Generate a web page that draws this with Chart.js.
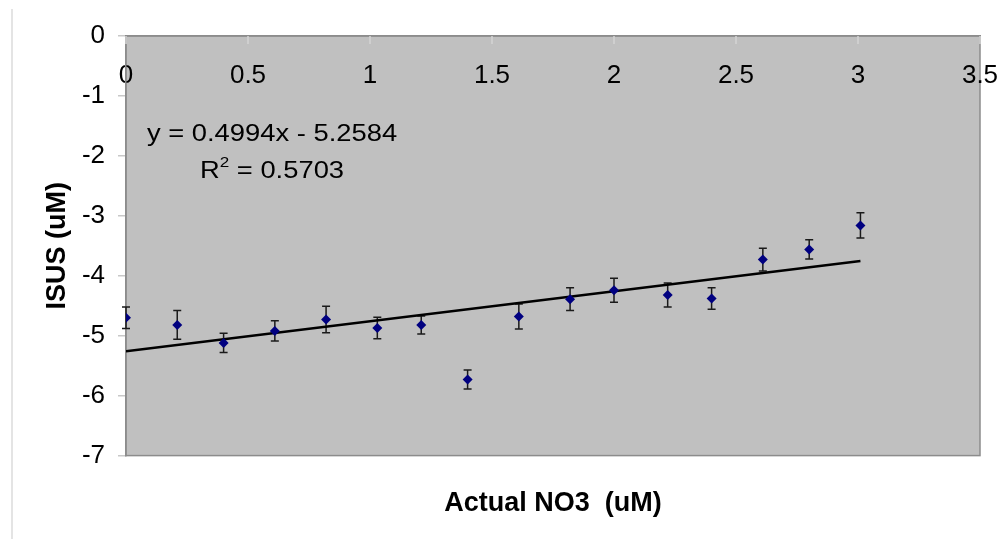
<!DOCTYPE html>
<html>
<head>
<meta charset="utf-8">
<script src="https://cdn.jsdelivr.net/npm/chart.js@4"></script>
<style>
  html, body { margin: 0; padding: 0; background: #fff; }
  #wrap { width: 1005px; height: 539px; }
</style>
</head>
<body>
<div id="wrap"><canvas id="chart" width="1005" height="539"></canvas></div>
<script>
"use strict";

// Measured points: actual NO3 vs ISUS reading, with +/- error
const actualNO3 = [0, 0.21, 0.40, 0.61, 0.82, 1.03, 1.21, 1.40, 1.61, 1.82, 2.00, 2.22, 2.40, 2.61, 2.80, 3.01];
const isusValues = [-4.70, -4.82, -5.12, -4.92, -4.73, -4.87, -4.82, -5.73, -4.68, -4.39, -4.24, -4.32, -4.38, -3.73, -3.56, -3.16];
const isusErrors = [0.18, 0.24, 0.16, 0.17, 0.22, 0.18, 0.15, 0.16, 0.21, 0.19, 0.20, 0.20, 0.18, 0.19, 0.16, 0.21];

// Linear trendline as printed on the chart
const trendSlope = 0.4994;
const trendIntercept = -5.2584;
const trendRange = [0, 3.01];
const equationLabel = "y = 0.4994x - 5.2584";
const rSquaredLabel = "0.5703";

// Axis ticks
const xTicks = [0, 0.5, 1, 1.5, 2, 2.5, 3, 3.5];
const xTickLabels = ["0", "0.5", "1", "1.5", "2", "2.5", "3", "3.5"];
const yTicks = [-7, -6, -5, -4, -3, -2, -1, 0];
const yTickLabels = ["-7", "-6", "-5", "-4", "-3", "-2", "-1", "0"];

const FONT = "'Liberation Sans', Arial, sans-serif";

const plotFrame = {
  id: "plotFrame",
  beforeDraw(chart) {
    const { ctx, chartArea: a } = chart;
    ctx.save();
    // faint outer frame on the left
    ctx.strokeStyle = "#e4e4e4";
    ctx.lineWidth = 2;
    ctx.beginPath();
    ctx.moveTo(12, 9);
    ctx.lineTo(12, 539);
    ctx.stroke();
    // grey plot area
    ctx.fillStyle = "#c0c0c0";
    ctx.fillRect(a.left, a.top, a.right - a.left, a.bottom - a.top);
    ctx.strokeStyle = "#8c8c8c";
    ctx.lineWidth = 1.5;
    ctx.strokeRect(a.left, a.top, a.right - a.left, a.bottom - a.top);
    ctx.restore();
  },
  beforeDatasetsDraw(chart) {
    const { ctx, chartArea: a } = chart;
    const xs = chart.scales.x;
    const ys = chart.scales.y;
    ctx.save();
    // small tick marks hanging down from the top axis
    ctx.strokeStyle = "#d4d4d4";
    ctx.lineWidth = 1.5;
    xTicks.forEach((v) => {
      const px = xs.getPixelForValue(v);
      ctx.beginPath();
      ctx.moveTo(px, a.top);
      ctx.lineTo(px, a.top + 8);
      ctx.stroke();
    });
    // error bars
    ctx.strokeStyle = "#1a1a1a";
    ctx.lineWidth = 1.5;
    actualNO3.forEach((x, i) => {
      const px = xs.getPixelForValue(x);
      const top = ys.getPixelForValue(isusValues[i] + isusErrors[i]);
      const bot = ys.getPixelForValue(isusValues[i] - isusErrors[i]);
      ctx.beginPath();
      ctx.moveTo(px, top);
      ctx.lineTo(px, bot);
      ctx.moveTo(px - 4, top);
      ctx.lineTo(px + 4, top);
      ctx.moveTo(px - 4, bot);
      ctx.lineTo(px + 4, bot);
      ctx.stroke();
    });
    ctx.restore();
  },
  afterDraw(chart) {
    const ctx = chart.ctx;
    const stretch = 1.14;
    ctx.save();
    ctx.fillStyle = "#000";
    ctx.textBaseline = "middle";
    ctx.translate(272, 0);
    ctx.scale(stretch, 1);
    ctx.font = `24px ${FONT}`;
    ctx.textAlign = "center";
    ctx.fillText(equationLabel, 0, 134);

    // second line: R² = value
    const rest = " = " + rSquaredLabel;
    const wR = ctx.measureText("R").width;
    const wRest = ctx.measureText(rest).width;
    ctx.font = `15px ${FONT}`;
    const wSup = ctx.measureText("2").width;
    const total = wR + wSup + wRest;
    let x = -total / 2;
    ctx.textAlign = "left";
    ctx.font = `24px ${FONT}`;
    ctx.fillText("R", x, 171);
    x += wR;
    ctx.font = `15px ${FONT}`;
    ctx.fillText("2", x, 163);
    x += wSup;
    ctx.font = `24px ${FONT}`;
    ctx.fillText(rest, x, 171);
    ctx.restore();
  }
};

const pointData = actualNO3.map((x, i) => ({ x: x, y: isusValues[i] }));
const trendData = trendRange.map((x) => ({ x: x, y: trendSlope * x + trendIntercept }));

new Chart(document.getElementById("chart"), {
  type: "scatter",
  data: {
    datasets: [
      {
        label: "ISUS",
        data: pointData,
        pointStyle: "rectRot",
        pointRadius: 5,
        backgroundColor: "#000080",
        borderColor: "#000080",
        borderWidth: 0,
        order: 0
      },
      {
        label: "Trend",
        data: trendData,
        showLine: true,
        borderColor: "#000",
        borderWidth: 2.5,
        pointRadius: 0,
        order: 1
      }
    ]
  },
  options: {
    responsive: false,
    animation: false,
    layout: { padding: { left: 41, top: 10, right: 25, bottom: 19 } },
    plugins: {
      legend: { display: false },
      tooltip: { enabled: false },
      title: {
        display: true,
        text: "Actual NO3  (uM)",
        position: "bottom",
        fullSize: false,
        color: "#000",
        font: { family: FONT, size: 27, weight: "bold" },
        padding: { top: 32, bottom: 0 }
      }
    },
    scales: {
      x: {
        type: "linear",
        position: "top",
        min: 0,
        max: 3.5,
        afterBuildTicks: (scale) => {
          scale.ticks = xTicks.map((v) => ({ value: v }));
        },
        afterFit: (scale) => {
          scale.height = 26;
          scale.paddingLeft = 0;
          scale.paddingRight = 0;
        },
        ticks: {
          mirror: true,
          padding: 24,
          maxRotation: 0,
          autoSkip: false,
          color: "#000",
          font: { family: FONT, size: 26 },
          callback: (value) => xTickLabels[xTicks.indexOf(value)]
        },
        grid: { drawOnChartArea: false, drawTicks: false },
        border: { display: true, color: "#8c8c8c", width: 1.5 }
      },
      y: {
        type: "linear",
        min: -7,
        max: 0,
        afterBuildTicks: (scale) => {
          scale.ticks = yTicks.map((v) => ({ value: v }));
        },
        afterFit: (scale) => {
          scale.width = 85;
          scale.paddingTop = 0;
          scale.paddingBottom = 0;
        },
        ticks: {
          padding: 13,
          color: "#000",
          font: { family: FONT, size: 26 },
          callback: (value) => yTickLabels[yTicks.indexOf(value)]
        },
        grid: { drawOnChartArea: false, drawTicks: true, tickLength: 8, color: "#c8c8c8", lineWidth: 1.5 },
        border: { display: true, color: "#8c8c8c", width: 1.5 },
        title: {
          display: true,
          text: "ISUS (uM)",
          color: "#000",
          font: { family: FONT, size: 27, weight: "bold" },
          padding: { top: 0, bottom: 0 }
        }
      }
    }
  },
  plugins: [plotFrame]
});
</script>
</body>
</html>
